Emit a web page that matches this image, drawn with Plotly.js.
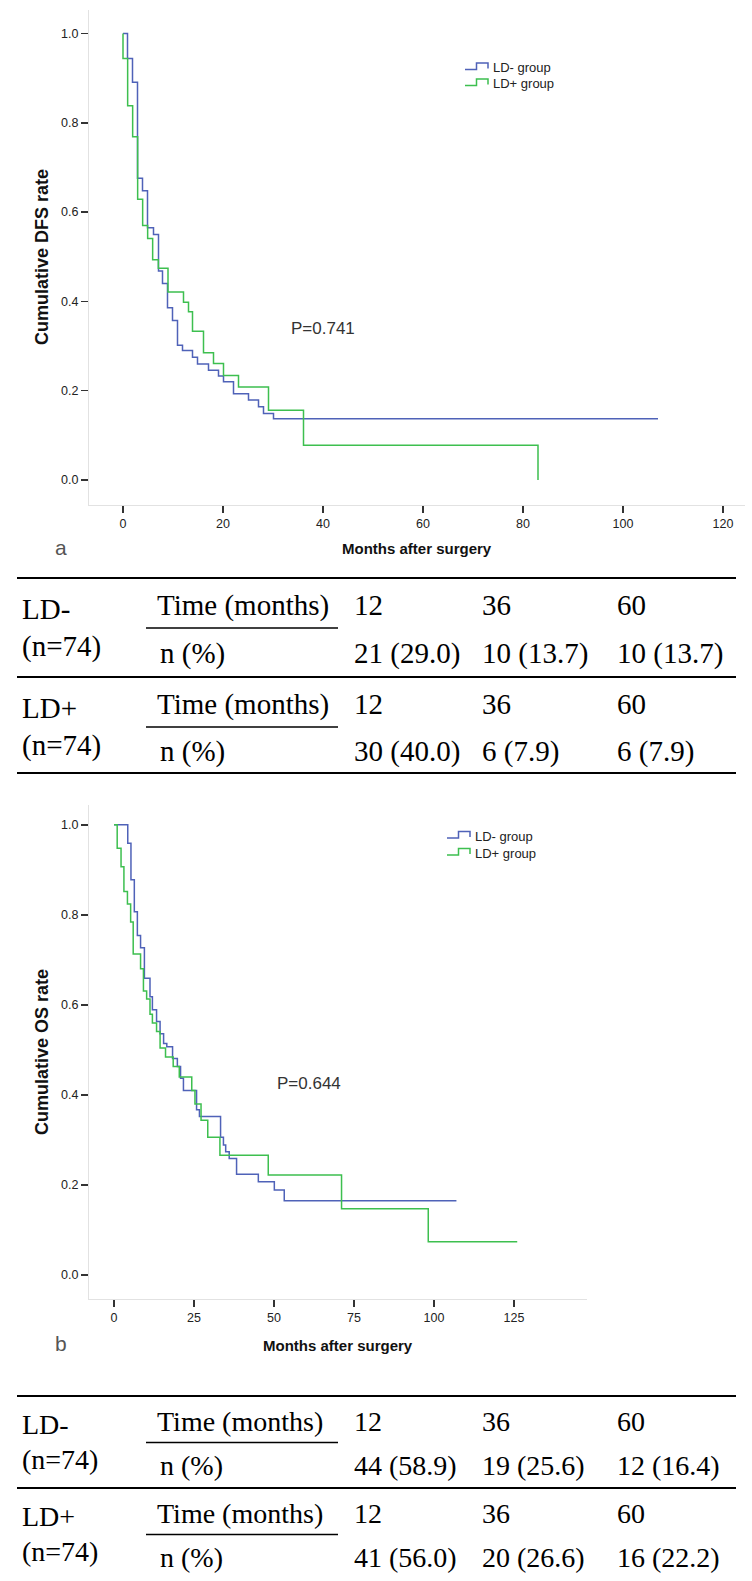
<!DOCTYPE html>
<html><head><meta charset="utf-8">
<script src="https://cdn.plot.ly/plotly-3.0.1.min.js"></script>
<style>html,body{margin:0;padding:0;background:#fff;}#chart{width:752px;height:1581px;}</style>
</head><body><div id="chart"></div>
<script>
// ---- Panel a: disease-free survival ----
const dfsNegMonths = [0, 0.9, 1.9, 2.9, 3.9, 4.9, 6.1, 7.1, 7.9, 8.9, 9.9, 10.9, 11.9, 13.9, 14.9, 17.1, 19.1, 20.1, 22.1, 25.1, 27.1, 28.1, 30.1, 107];
const dfsNegRate   = [1.0, 0.944, 0.891, 0.676, 0.648, 0.565, 0.550, 0.468, 0.440, 0.386, 0.357, 0.302, 0.290, 0.275, 0.260, 0.246, 0.233, 0.220, 0.193, 0.179, 0.164, 0.149, 0.137, 0.137];
const dfsPosMonths = [0, 0, 0.93, 1.93, 2.93, 3.93, 4.93, 5.93, 7.07, 9.0, 12.1, 13.1, 13.9, 16.1, 18.1, 20.1, 23.1, 29.1, 36.1, 83, 83];
const dfsPosRate   = [1.0, 0.944, 0.838, 0.769, 0.629, 0.570, 0.541, 0.493, 0.474, 0.421, 0.398, 0.377, 0.333, 0.285, 0.261, 0.234, 0.208, 0.156, 0.078, 0.078, 0];
// ---- Panel b: overall survival ----
const osNegMonths = [0, 4.3, 5.3, 6.35, 7.3, 8.3, 9.5, 11.25, 12.0, 13.3, 14.4, 15.5, 16.5, 18.3, 19.8, 20.8, 21.7, 25.8, 26.7, 33.3, 34.2, 34.9, 36.0, 38.3, 45.1, 50.1, 53.2, 107];
const osNegRate   = [1.0, 0.959, 0.878, 0.807, 0.754, 0.727, 0.659, 0.618, 0.589, 0.563, 0.536, 0.514, 0.507, 0.481, 0.463, 0.437, 0.410, 0.367, 0.352, 0.306, 0.289, 0.274, 0.259, 0.224, 0.207, 0.189, 0.165, 0.165];
const osPosMonths = [0, 1.0, 2.2, 3.1, 4.2, 5.2, 6.0, 8.3, 9.2, 10.2, 11.25, 12.0, 13.3, 14.4, 16.1, 18.5, 20.4, 24.3, 25.3, 27.2, 29.3, 33.1, 48.2, 71.1, 98.2, 126];
const osPosRate   = [1.0, 0.948, 0.907, 0.852, 0.824, 0.784, 0.713, 0.680, 0.631, 0.613, 0.579, 0.560, 0.541, 0.504, 0.484, 0.463, 0.440, 0.410, 0.380, 0.344, 0.306, 0.266, 0.222, 0.147, 0.074, 0.074];

const groupNames = ['LD- group', 'LD+ group'];
const pValues = ['P=0.741', 'P=0.644'];
const panelLabels = ['a', 'b'];
const yTitles = ['Cumulative DFS rate', 'Cumulative OS rate'];
const xTitle = 'Months after surgery';
const dfsXTicks = [0, 20, 40, 60, 80, 100, 120];
const osXTicks = [0, 25, 50, 75, 100, 125];
const yTicks = [0, 0.2, 0.4, 0.6, 0.8, 1.0];

// ---- tables ----
const tableGroups = ['LD-', 'LD+'];
const tableN = ['(n=74)', '(n=74)'];
const timeLabel = 'Time (months)';
const nLabel = 'n (%)';
const timePoints = ['12', '36', '60'];
const dfsNegCounts = ['21 (29.0)', '10 (13.7)', '10 (13.7)'];
const dfsPosCounts = ['30 (40.0)', '6 (7.9)', '6 (7.9)'];
const osNegCounts = ['44 (58.9)', '19 (25.6)', '12 (16.4)'];
const osPosCounts = ['41 (56.0)', '20 (26.6)', '16 (22.2)'];

const W = 752, H = 1581;
const px = x => x / W;
const py = y => 1 - y / H;
const BLUE = '#4f62b8', GREEN = '#3dbf4f';
const sans = 'Liberation Sans, Arial, sans-serif';
const serif = 'Liberation Serif, Times New Roman, serif';

function kmTrace(x, y, color, xa, ya, name) {
  return {x: x, y: y, type: 'scatter', mode: 'lines', line: {shape: 'hv', color: color, width: 1.5},
          xaxis: xa, yaxis: ya, name: name, showlegend: false, hoverinfo: 'skip'};
}
const data = [
  kmTrace(dfsNegMonths, dfsNegRate, BLUE, 'x', 'y', groupNames[0]),
  kmTrace(dfsPosMonths, dfsPosRate, GREEN, 'x', 'y', groupNames[1]),
  kmTrace(osNegMonths, osNegRate, BLUE, 'x2', 'y2', groupNames[0]),
  kmTrace(osPosMonths, osPosRate, GREEN, 'x2', 'y2', groupNames[1])
];

const axBase = {showline: true, linecolor: '#e2e2e2', linewidth: 1, ticks: 'outside', ticklen: 7, tickwidth: 1.5,
  tickcolor: '#333', showgrid: false, zeroline: false, fixedrange: true,
  tickfont: {family: sans, size: 12.5, color: '#222'}};

const layout = {
  width: W, height: H, margin: {l: 0, r: 0, t: 0, b: 0}, paper_bgcolor: '#fff', plot_bgcolor: '#fff',
  showlegend: false,
  xaxis: Object.assign({}, axBase, {domain: [px(89), px(745)], range: [-6.8, 124.4], anchor: 'y', tickvals: dfsXTicks}),
  yaxis: Object.assign({}, axBase, {domain: [py(505), py(10)], range: [-0.056, 1.0526], anchor: 'x', tickvals: yTicks, tickformat: '.1f'}),
  xaxis2: Object.assign({}, axBase, {domain: [px(89), px(587)], range: [-7.81, 147.8], anchor: 'y2', tickvals: osXTicks}),
  yaxis2: Object.assign({}, axBase, {domain: [py(1299), py(805)], range: [-0.0533, 1.044], anchor: 'x2', tickvals: yTicks, tickformat: '.1f'}),
  annotations: [],
  shapes: []
};

function ann(text, x, y, size, opts) {
  layout.annotations.push(Object.assign({text: text, x: px(x), y: py(y), xref: 'paper', yref: 'paper',
    showarrow: false, xanchor: 'left', yanchor: 'middle', font: {family: sans, size: size, color: '#222'}}, opts || {}));
}
function hline(x0, x1, y, w) {
  layout.shapes.push({type: 'line', xref: 'paper', yref: 'paper', x0: px(x0), x1: px(x1), y0: py(y), y1: py(y),
    line: {color: '#000', width: w}});
}
function stepIcon(x0, y, color) {
  const p = [[x0, y], [x0 + 11.5, y], [x0 + 11.5, y - 6.5], [x0 + 23, y - 6.5], [x0 + 23, y - 1]];
  const path = 'M' + p.map(q => px(q[0]) + ',' + py(q[1])).join(' L');
  layout.shapes.push({type: 'path', xref: 'paper', yref: 'paper', path: path, line: {color: color, width: 1.5}});
}

// panel a decorations
ann('<b>' + yTitles[0] + '</b>', 42, 257, 18, {xanchor: 'center', textangle: -90, font: {family: sans, size: 18, color: '#111'}});
ann('<b>' + xTitle + '</b>', 417, 548, 15, {xanchor: 'center', font: {family: sans, size: 15, color: '#111'}});
ann(pValues[0], 289, 328, 17, {font: {family: sans, size: 17, color: '#333'}});
ann(panelLabels[0], 53, 547, 21, {font: {family: sans, size: 21, color: '#555'}});
stepIcon(465, 69.5, BLUE); stepIcon(465, 85.5, GREEN);
ann(groupNames[0], 491, 67.7, 13); ann(groupNames[1], 491, 83.3, 13);

// panel b decorations
ann('<b>' + yTitles[1] + '</b>', 42, 1052, 18, {xanchor: 'center', textangle: -90, font: {family: sans, size: 18, color: '#111'}});
ann('<b>' + xTitle + '</b>', 338, 1345, 15, {xanchor: 'center', font: {family: sans, size: 15, color: '#111'}});
ann(pValues[1], 275, 1083, 17, {font: {family: sans, size: 17, color: '#333'}});
ann(panelLabels[1], 53, 1343, 21, {font: {family: sans, size: 21, color: '#555'}});
stepIcon(447, 838, BLUE); stepIcon(447, 855, GREEN);
ann(groupNames[0], 473, 836.5, 13); ann(groupNames[1], 473, 853.5, 13);

// tables
function table(top, k, fs, negCounts, posCounts, bottomRule) {
  const f = {family: serif, size: fs, color: '#000'};
  const colX = [352, 480, 615];
  hline(17, 736, top, 2);
  [[0, negCounts], [1, posCounts]].forEach(([g, counts]) => {
    const base = top + g * 99 * k;
    ann(tableGroups[g], 20, base + 31 * k, fs, {font: f});
    ann(tableN[g], 20, base + 68 * k, fs, {font: f});
    ann(timeLabel, 155, base + 27 * k, fs, {font: f});
    hline(146, 338, base + 50 * k, 1.5);
    ann(nLabel, 158, base + 75 * k, fs, {font: f});
    timePoints.forEach((t, i) => ann(t, colX[i], base + 27 * k, fs, {font: f}));
    counts.forEach((c, i) => ann(c, colX[i], base + 75 * k, fs, {font: f}));
    if (g === 0) hline(17, 736, base + 99 * k, 2);
  });
  if (bottomRule) hline(17, 736, top + 195 * k, 2);
}
table(578, 1, 29, dfsNegCounts, dfsPosCounts, true);
table(1396, 0.93, 28, osNegCounts, osPosCounts, false);

Plotly.newPlot('chart', data, layout, {staticPlot: true});
</script></body></html>
